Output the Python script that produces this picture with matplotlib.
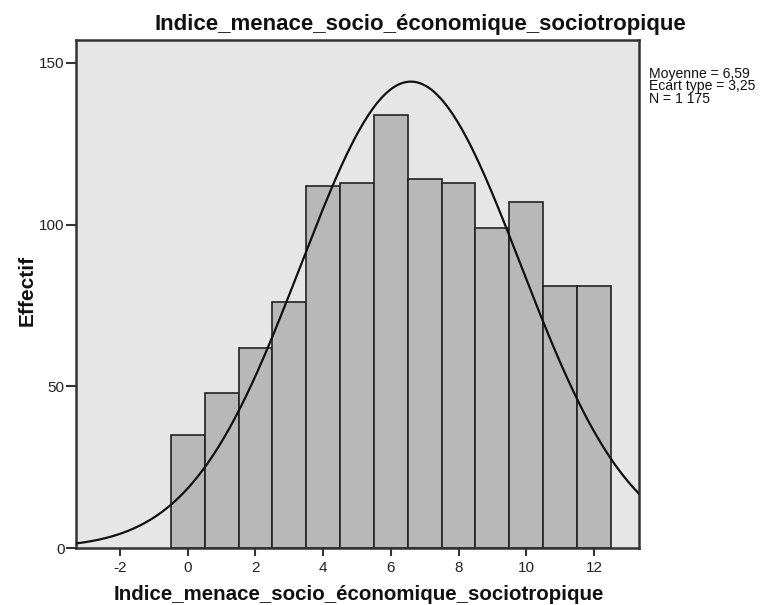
import numpy as np
import matplotlib
matplotlib.use("Agg")
import matplotlib.pyplot as plt

plt.rcParams['font.family'] = ['Liberation Sans', 'DejaVu Sans']
plt.rcParams['axes.unicode_minus'] = False

# histogram data (bin centres and counts)
bins = [0, 1, 2, 3, 4, 5, 6, 7, 8, 9, 10, 11, 12]
counts = [35, 48, 62, 76, 112, 113, 134, 114, 113, 99, 107, 81, 81]
mean, sd, n = 6.59, 3.25, 1175
title = "Indice_menace_socio_économique_sociotropique"
stats_text = "Moyenne = 6,59\nEcart type = 3,25\nN = 1 175"

W, H = 765, 605
fig = plt.figure(figsize=(W / 100, H / 100), dpi=100)
ax = fig.add_axes([75.7 / W, 57 / H, (639 - 75.7) / W, (548 - 40) / H])
ax.set_facecolor('#e6e6e6')

ax.bar(bins, counts, width=1.0, color='#b8b8b8', edgecolor='#222222', linewidth=1.2, zorder=2)

# normal curve from the stated mean / sd / N (bin width 1)
xs = np.linspace(-3.31, 13.33, 400)
ys = n * np.exp(-0.5 * ((xs - mean) / sd) ** 2) / (sd * np.sqrt(2 * np.pi))
ax.plot(xs, ys, color='#111111', linewidth=1.6, zorder=3)

ax.set_xlim(-3.31, 13.33)
ax.set_ylim(0, 157.1)
ax.set_xticks(range(-2, 13, 2))
ax.set_yticks([0, 50, 100, 150])
for s in ax.spines.values():
    s.set_color('#333333')
    s.set_linewidth(1.8)
ax.tick_params(axis='y', direction='out', length=7, width=1.5, color='#333333',
               labelsize=11, labelcolor='#222222', pad=1)
ax.tick_params(axis='x', direction='out', length=6, width=1.5, color='#333333',
               labelsize=11, labelcolor='#222222', pad=3)

fig.text(420 / W, 1 - 30 / H, title, ha='center', va='baseline',
         fontsize=16, fontweight='bold', color='#111111')
fig.text(359 / W, 1 - 600 / H, title, ha='center', va='baseline',
         fontsize=14.8, fontweight='bold', color='#111111')
fig.text(27 / W, 1 - 290 / H, "Effectif", ha='center', va='center', rotation=90,
         fontsize=15, fontweight='bold', color='#111111')
fig.text(649 / W, 1 - 67 / H, stats_text, ha='left', va='top',
         fontsize=10.1, linespacing=0.85, color='#111111')

fig.savefig('out.png', dpi=100)
